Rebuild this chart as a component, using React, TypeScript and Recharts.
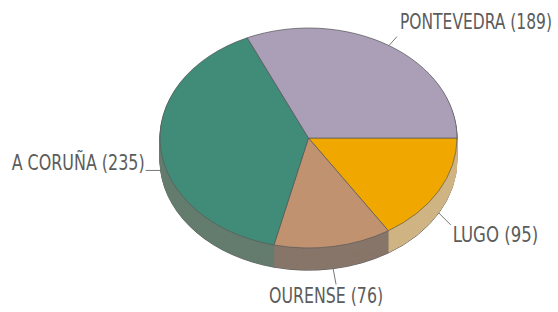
import { PieChart, Pie, Cell } from "recharts";

const provinces = ["LUGO", "OURENSE", "A CORUÑA", "PONTEVEDRA"];
const counts = [95, 76, 235, 189];
const topColors = ["#f0a800", "#c09270", "#408c78", "#ab9fb8"];
const sideColors = ["#d0b484", "#877669", "#647d6e", "#8a8095"];

const data = provinces.map((name, i) => ({ name, value: counts[i] }));

const W = 558;
const H = 312;
const CX = 308.5;
const CY = 138;
const RX = 148.5;
const RY = 110;
const DEPTH = 22;
const SQUASH = RY / RX;
const WALL = Math.round(DEPTH / SQUASH);
// wall layers drawn from the bottom up
const layers = Array.from({ length: WALL }, (_, i) => WALL - i);
const NO_MARGIN = { top: 0, right: 0, bottom: 0, left: 0 };

const OUTLINE = "#5a5a5a";
const TEXT = "#5c5c5c";

function renderLabel(props: any) {
  const { midAngle, name, value } = props;
  const rad = (midAngle * Math.PI) / 180;
  const cos = Math.cos(rad);
  const sin = Math.sin(rad);
  const x0 = CX + RX * cos;
  const y0 = CY - RY * sin + (sin < 0 ? DEPTH : 0);
  const text = `${name} (${value})`;
  let x1, y1, tx, ty, anchor;
  if (cos < -0.5) {
    x1 = x0 - 15; y1 = y0; tx = x1 - 1; ty = y1; anchor = "end";
  } else if (sin > 0) {
    x1 = x0 + 8; y1 = y0 - 9; tx = x1 + 3; ty = y1 - 8; anchor = "start";
  } else if (cos > 0.5) {
    x1 = x0 + 12; y1 = y0 + 12; tx = x1 + 2; ty = y1 + 17; anchor = "start";
  } else {
    x1 = x0 + 3; y1 = y0 + 16; tx = x1 - 10; ty = y1 + 19; anchor = "middle";
  }
  return (
    <g key={name}>
      <line x1={x0} y1={y0} x2={x1} y2={y1} stroke="#777" strokeWidth={1} />
      <text
        x={tx}
        y={ty}
        textAnchor={anchor}
        fontSize={21}
        fill={TEXT}
        textLength={text.length * 9.5}
        lengthAdjust="spacingAndGlyphs"
        fontFamily="'Liberation Sans Narrow', 'DejaVu Sans Condensed', 'Liberation Sans', sans-serif"
      >
        {text}
      </text>
    </g>
  );
}

export default function App() {
  const cyFlat = CY / SQUASH;
  return (
    <div style={{ position: "absolute", left: 0, top: 0, width: W, height: H, background: "#fff", overflow: "hidden" }}>
      <div style={{ position: "absolute", left: 0, top: 0, transform: `scaleY(${SQUASH})`, transformOrigin: "0 0" }}>
        <PieChart width={W} height={380} margin={NO_MARGIN}>
          {layers.map((k) => (
            <Pie
              key={k}
              data={data}
              dataKey="value"
              cx={CX}
              cy={cyFlat + k}
              outerRadius={RX}
              startAngle={0}
              endAngle={-360}
              isAnimationActive={false}
              labelLine={false}
            >
              {data.map((_, i) => (
                <Cell
                  key={i}
                  fill={sideColors[i]}
                  stroke={k === WALL ? OUTLINE : sideColors[i]}
                  strokeWidth={1}
                />
              ))}
            </Pie>
          ))}
          <Pie
            data={data}
            dataKey="value"
            cx={CX}
            cy={cyFlat}
            outerRadius={RX}
            startAngle={0}
            endAngle={-360}
            isAnimationActive={false}
            labelLine={false}
          >
            {data.map((_, i) => (
              <Cell key={i} fill={topColors[i]} stroke={OUTLINE} strokeWidth={0.8} />
            ))}
          </Pie>
        </PieChart>
      </div>
      <div style={{ position: "absolute", left: 0, top: 0 }}>
        <PieChart width={W} height={H} margin={NO_MARGIN}>
          <Pie
            data={data}
            dataKey="value"
            cx={CX}
            cy={CY}
            outerRadius={RX}
            startAngle={0}
            endAngle={-360}
            fill="none"
            stroke="none"
            isAnimationActive={false}
            labelLine={false}
            label={renderLabel}
          />
        </PieChart>
      </div>
    </div>
  );
}
